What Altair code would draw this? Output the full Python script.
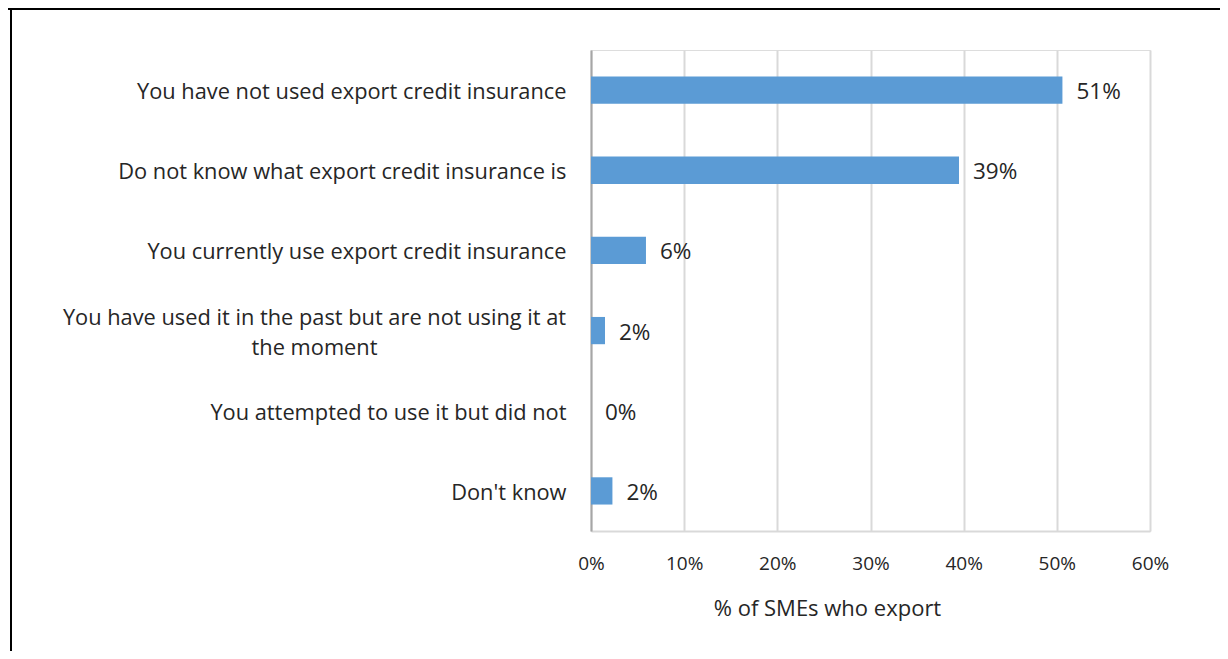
import altair as alt
import pandas as pd

categories = [
    "You have not used export credit insurance",
    "Do not know what export credit insurance is",
    "You currently use export credit insurance",
    "You have used it in the past but are not using it at|the moment",
    "You attempted to use it but did not",
    "Don't know",
]
values = [50.6, 39.5, 5.9, 1.5, 0.0, 2.3]
value_labels = ["51%", "39%", "6%", "2%", "0%", "2%"]
x_ticks = [0, 10, 20, 30, 40, 50, 60]
x_title = "% of SMEs who export"

df = pd.DataFrame({"cat": categories, "val": values, "lab": value_labels})

FONT = "Open Sans"
TXT = "#262626"
wrapped = categories[3]
is_wrapped = f"datum.value == '{wrapped}'"

y_enc = alt.Y(
    "cat:N",
    sort=categories,
    title=None,
    scale=alt.Scale(paddingInner=0.66, paddingOuter=0.33),
    axis=alt.Axis(
        labelExpr="split(datum.label, '|')",
        labelFont=FONT,
        labelFontSize=21.8,
        labelColor=TXT,
        labelLimit=700,
        labelLineHeight=30,
        labelAlign=alt.condition(is_wrapped, alt.value("center"), alt.value("right")),
        labelPadding=alt.condition(is_wrapped, alt.value(277), alt.value(25)),
        labelOffset=alt.condition(is_wrapped, alt.value(-13), alt.value(2)),
        ticks=False,
        domainColor="#a6a6a6",
        domainWidth=2,
        grid=False,
    ),
)

x_enc = alt.X(
    "val:Q",
    scale=alt.Scale(domain=[0, 60], nice=False),
    title=x_title,
    axis=alt.Axis(
        values=x_ticks,
        labelExpr="datum.value + '%'",
        labelFont=FONT,
        labelFontSize=19,
        labelColor=TXT,
        labelPadding=23,
        labelFlush=False,
        titleFont=FONT,
        titleFontSize=22,
        titleFontWeight="normal",
        titleColor=TXT,
        titlePadding=25,
        titleX=236,
        titleAlign="center",
        ticks=False,
        domainColor="#d9d9d9",
        domainWidth=2,
        gridColor="#d9d9d9",
        gridWidth=2,
    ),
)

bars = alt.Chart(df).mark_bar(color="#5B9BD5").encode(x=x_enc, y=y_enc)

text = alt.Chart(df).mark_text(
    align="left", baseline="middle", dx=14, dy=2, font=FONT, fontSize=22.5, color=TXT
).encode(x="val:Q", y=alt.Y("cat:N", sort=categories), text="lab:N")

frame_top = alt.Chart(df.head(1)).mark_rule(color="black", strokeWidth=2).encode(
    x=alt.value(-583), x2=alt.value(629), y=alt.value(-41)
)
frame_left = alt.Chart(df.head(1)).mark_rule(color="black", strokeWidth=2).encode(
    x=alt.value(-580), y=alt.value(-42), y2=alt.value(601)
)

chart = (
    alt.layer(bars, text, frame_top, frame_left)
    .properties(
        width=559,
        height=481,
        autosize=alt.AutoSizeParams(type="none"),
        padding={"left": 583, "top": 42, "right": 70, "bottom": 120},
    )
    .configure_view(stroke=None)
    .configure(background="white")
)

chart.save("out.html", embed_options={"renderer": "svg", "actions": False})
